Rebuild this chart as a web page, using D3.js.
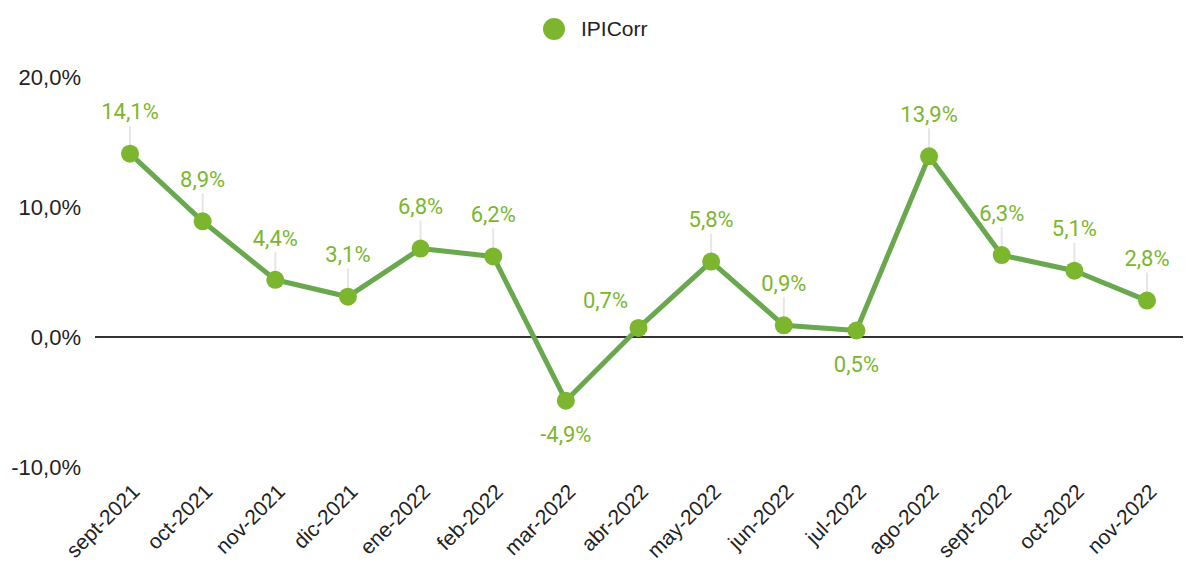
<!DOCTYPE html>
<html>
<head>
<meta charset="utf-8">
<script src="https://cdn.jsdelivr.net/npm/d3@7"></script>
<style>
  body { margin: 0; background: #fff; }
</style>
</head>
<body>
<div id="chart"></div>
<script>
// data
var months = ['sept-2021', 'oct-2021', 'nov-2021', 'dic-2021', 'ene-2022', 'feb-2022', 'mar-2022',
  'abr-2022', 'may-2022', 'jun-2022', 'jul-2022', 'ago-2022', 'sept-2022', 'oct-2022', 'nov-2022'];
var ipiCorr = [14.1, 8.9, 4.4, 3.1, 6.8, 6.2, -4.9, 0.7, 5.8, 0.9, 0.5, 13.9, 6.3, 5.1, 2.8];
var yTicks = [-10, 0, 10, 20];
var seriesName = 'IPICorr';

var W = 1191, H = 567;
var margin = { top: 77, right: 8, bottom: 100, left: 95 };

var svg = d3.select('#chart').append('svg')
  .attr('width', W)
  .attr('height', H);

var fmt = function(v, d) { return v.toFixed(d).replace('.', ',') + '%'; };

var x = d3.scalePoint()
  .domain(months)
  .range([130, 1147]);

var y = d3.scaleLinear()
  .domain([-10, 20])
  .range([H - margin.bottom, margin.top]);

// y axis labels
svg.append('g').selectAll('text')
  .data(yTicks)
  .enter().append('text')
  .attr('x', 81)
  .attr('y', d => y(d))
  .attr('dy', '0.35em')
  .attr('text-anchor', 'end')
  .style('font-family', 'Liberation Sans, Arial, sans-serif')
  .style('font-size', '22px')
  .style('fill', '#222')
  .text(d => fmt(d, 1));

// zero line
svg.append('line')
  .attr('x1', margin.left)
  .attr('x2', W - margin.right)
  .attr('y1', y(0))
  .attr('y2', y(0))
  .attr('stroke', '#333')
  .attr('stroke-width', 2);

// x labels
svg.append('g').selectAll('text')
  .data(months)
  .enter().append('text')
  .attr('transform', d => 'translate(' + (x(d) + 11) + ',' + 493 + ') rotate(-45)')
  .attr('text-anchor', 'end')
  .style('font-family', 'Liberation Sans, Arial, sans-serif')
  .style('font-size', '21px')
  .style('fill', '#222')
  .text(d => d);

var pts = months.map((m, i) => ({ m: m, v: ipiCorr[i], i: i }));

// label placement: below for the dips, left-up for abr
function labelPos(d) {
  if (d.v < 0 || d.m === 'jul-2022') return { dx: 0, dy: 34, lead: false };
  if (d.m === 'abr-2022') return { dx: -33, dy: -28, lead: false };
  return { dx: 0, dy: -42, lead: true };
}

// leader lines
svg.append('g').selectAll('line')
  .data(pts.filter(d => labelPos(d).lead))
  .enter().append('line')
  .attr('x1', d => x(d.m))
  .attr('x2', d => x(d.m))
  .attr('y1', d => y(d.v) - 6)
  .attr('y2', d => y(d.v) - 28)
  .attr('stroke', '#e6e6e6')
  .attr('stroke-width', 2);

// line
var line = d3.line()
  .x(d => x(d.m))
  .y(d => y(d.v));

svg.append('path')
  .datum(pts)
  .attr('d', line)
  .attr('fill', 'none')
  .attr('stroke', '#6aa84f')
  .attr('stroke-width', 5)
  .attr('stroke-linejoin', 'round');

// points
svg.append('g').selectAll('circle')
  .data(pts)
  .enter().append('circle')
  .attr('cx', d => x(d.m))
  .attr('cy', d => y(d.v))
  .attr('r', 9)
  .attr('fill', '#7cb62f');

// data labels
svg.append('g').selectAll('text')
  .data(pts)
  .enter().append('text')
  .attr('x', d => x(d.m) + labelPos(d).dx)
  .attr('y', d => y(d.v) + labelPos(d).dy)
  .attr('dy', '0.35em')
  .attr('text-anchor', 'middle')
  .style('font-family', 'Roboto, sans-serif')
  .style('font-size', '22px')
  .style('fill', '#7cb62f')
  .text(d => fmt(d.v, 1));

// legend
svg.append('circle')
  .attr('cx', 554)
  .attr('cy', 29)
  .attr('r', 11)
  .attr('fill', '#7cb62f');

svg.append('text')
  .attr('x', 581)
  .attr('y', 29)
  .attr('dy', '0.35em')
  .style('font-family', 'Liberation Sans, Arial, sans-serif')
  .style('font-size', '21px')
  .style('fill', '#222')
  .text(seriesName);
</script>
</body>
</html>
